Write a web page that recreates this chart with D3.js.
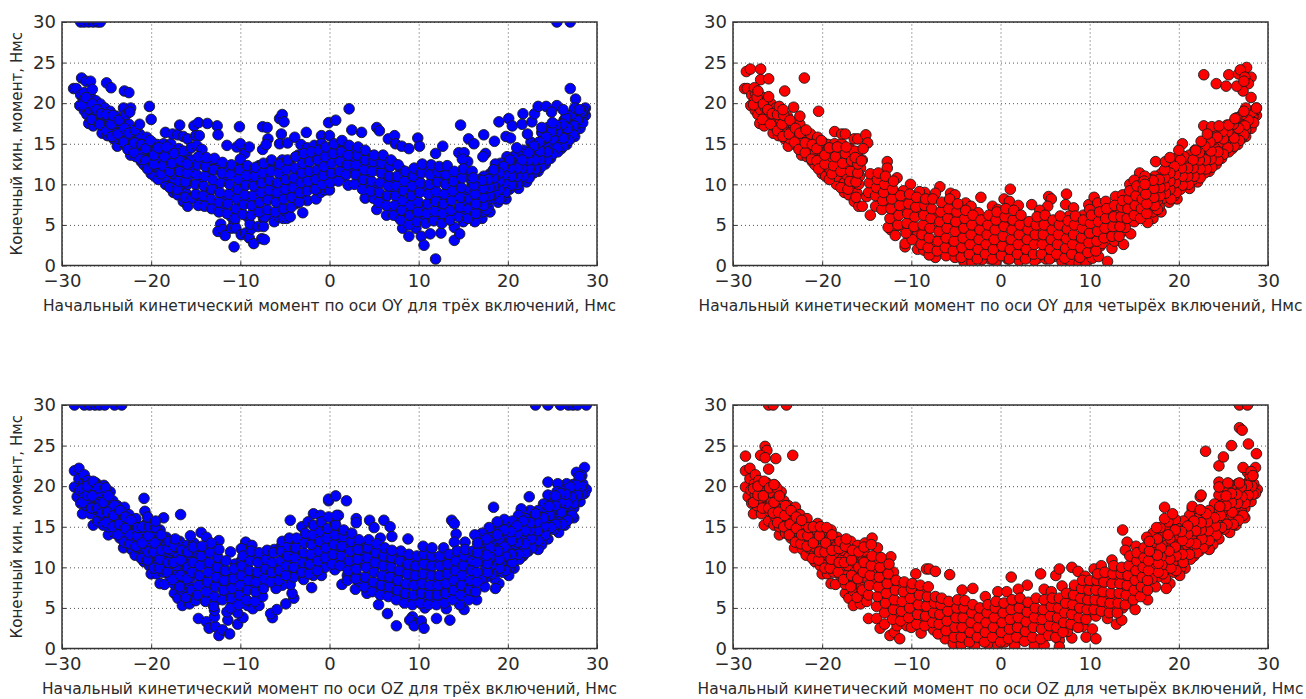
<!DOCTYPE html>
<html>
<head>
<meta charset="utf-8">
<script src="https://cdn.jsdelivr.net/npm/d3@7"></script>
<style>
  body { margin: 0; background: #fff; }
  text { font-family: "DejaVu Sans", sans-serif; fill: #2a2a2a; }
  .grid line { stroke: #555; stroke-dasharray: 1 3; }
  .grid path { display: none; }
  .ticks path { display: none; }
  .ticks line { stroke: #333; }
  .ticks text { font-size: 18px; }
  .frame { fill: none; stroke: #333; stroke-width: 1.5; }
  .axisText { text-anchor: middle; }
  .dot { stroke: #1c1c1c; stroke-width: 0.9; }
</style>
</head>
<body>
<div id="chart"></div>
<script>
// all values below are read off the picture as flat x,y lists
// dense middles of the clouds can't be resolved point by point, so those are estimates
var tickValuesX = [-30, -20, -10, 0, 10, 20, 30];
var tickValuesY = [0, 5, 10, 15, 20, 25, 30];

// the outer parts of the clouds are nearly the same for three and four burns
var oyWings = [
  -28.7,21.8,-28.4,21.8,-28,19.7,-27.9,21,-27.6,20.3,-27.5,19.1,-27.5,21.3,-27.2,18.6,-27.1,20,-27,17.5,-26.9,19.2,-26.8,20.8,
  -26.5,17.2,-26.5,18.2,-26.4,19.5,-26.2,20.3,-26,17.8,-25.9,18.8,-25.7,19.9,-25.5,16.3,-25.5,17.3,-25.3,18.4,-25.2,19.4,
  -24.9,16,-24.9,17,-24.7,18,-24.6,19,-24.2,15.6,-24.2,16.6,-24,17.6,-23.9,18.4,-23.8,14.7,-23.6,15.6,-23.4,16.5,-23.3,17.5,
  -22.9,14.8,-22.8,15.8,-22.7,16.8,-22.5,17.4,-22.3,13.6,-22.2,14.6,-22.1,15.5,-22,16.4,-21.7,13.4,-21.6,14.4,-21.4,15.4,-21.3,16.2,
  -21.1,12.8,-20.9,13.8,-20.8,12.4,-20.7,14.8,-20.5,15.8,-20.3,13.2,-20.2,14.2,-20,11.3,-20,12.2,-19.9,15.2,-19.6,11,-19.6,13,-19.5,14,-19.3,14.9,
  -19.1,11.8,-18.9,12.8,-18.8,13.9,-18.6,15,-18.4,10,-18.4,11,-18.2,12,-18.1,13,-18,14.2,-17.8,15,-17.5,9,-17.5,10.2,-17.3,11.2,-17.2,12.3,-17,13.4,-17,8.7,-16.9,14.4,
  -16.7,9.8,-16.6,10.8,-16.5,11.8,-16.4,7.9,-16.3,12.9,-16.1,8.9,-16,14,-15.9,7.3,-15.9,10,-15.8,11,-15.7,12,-15.5,13,
  28.7,19.4,28.7,18.5,28.5,19,28.3,18.3,28.1,16.9,28.1,17.8,27.9,18.6,27.7,17.4,27.5,15.9,27.5,16.7,27.5,18.3,27.2,17.8,27,15.6,27,16.6,26.9,17.4,26.6,14.9,26.6,15.9,26.4,16.9,26.3,17.9,
  26,14.4,26,15.3,25.9,16.3,25.7,17.2,25.6,14,25.4,15,25.3,15.9,25.2,16.9,24.8,13.2,24.8,14.2,24.7,15.2,24.6,16.2,24.5,17,
  24.2,12.5,24.2,13.5,24,14.5,23.9,15.5,23.8,16.4,23.4,11.6,23.4,12.6,23.3,13.6,23.2,14.7,22.9,11.4,22.8,12.4,22.7,13.3,22.6,14.3,22.6,15.2,
  22.1,10.3,22.1,11.3,22,12.3,21.9,13.3,21.8,14.2,21.6,10.6,21.4,11.6,21.3,12.6,21.2,9.5,21.2,13.6,20.9,10.4,20.8,11.4,20.7,12.5,20.6,13.4,
  20.2,9.4,20.2,10.5,20.1,11.5,20,12.5,19.9,13.4,19.8,8.2,19.5,8.6,19.5,9.6,19.4,10.7,19.3,11.7,19.2,12.6,18.9,7.8,18.9,8.8,18.8,9.9,18.7,10.9,18.6,11.9,18.6,12.5,
  18.3,8.3,18.2,9.3,18.1,10.3,18,6.6,18,11.3,17.8,7.2,17.6,8,17.5,9,17.4,10,17.3,11,17.1,5.8,17.1,6.6,17,7.6,16.9,8.6,16.8,9.6,16.7,10.6
];
var oyWingsFill = [
  -27.7,19.8,-27.3,20.7,-26.7,18,-26.6,19.9,-26.1,19.2,-25.8,17.4,-25.6,18.7,-25,16.6,-25,18.6,-24.5,17.4,-24.4,15.9,-24.3,18.5,-23.7,16.2,-23.6,17.9,-23.1,15.2,-23,16.9,-22.6,14.3,-22.5,16.3,-21.9,13.9,-21.9,15.1,-21.8,16.7,
  -21.2,13.1,-21.1,14.9,-20.6,12.9,-20.6,14.4,-20.4,11.9,-20.1,15.4,-19.7,12.5,-19.7,13.6,-19.2,10.6,-19.2,14.5,-18.9,11.3,-18.7,12.3,-18.5,13.4,-18.3,14.6,-17.9,9.6,-17.9,11.6,-17.7,12.6,-17.4,13.8,-17.1,9.4,-16.9,10.4,-16.8,11.6,-16.7,12.9,-16.4,14.1,-16.2,8.4,-16.2,10.3,-16,11.4,-16,12.5,
  28.4,17.6,28.2,18.9,27.8,17.9,27.4,17.2,27.3,16.1,27.1,18.6,26.8,15.4,26.7,16.9,26.5,18.2,26.2,14.7,26.2,15.7,26.1,17.4,25.5,14.5,25.5,16.5,25.4,17.3,25,13.7,25,15.6,24.9,16.5,24.4,13,24.4,14,24.3,15.8,23.7,12.1,23.6,13.1,23.6,14.1,23.5,15.2,23.1,11.9,23,13,22.9,14.7,
  22.4,10.8,22.4,11.9,22.3,13,22.3,13.9,21.7,11,21.6,12,21.6,13,21.1,10,21,11,21,12,20.4,9.9,20.4,11,20.3,12,20.2,13,19.7,9,19.6,10.2,19.6,11.2,19.5,12.2,19.1,8.2,19,9.4,19,10.4,19,11.4,18.5,8.9,18.4,9.8,18.4,10.8,18.4,11.8,17.9,8.6,17.9,9.6,17.8,10.6,17.6,6.9,17.3,7.4,17.2,8.4,17.2,9.5,17.1,10.5
];
var ozWings = [
  -28.6,21.9,-28.6,19.9,-28.3,18.7,-28.1,22.2,-28.1,20.9,-28,19.5,-27.9,17.9,-27.7,16.6,-27.6,20.3,-27.5,21.4,-27.5,18.9,-27.3,17.6,-27.1,20.7,-27,19.5,-26.9,18.3,
  -26.8,16.6,-26.6,20.1,-26.5,15.2,-26.4,17.4,-26.3,18.8,-26.2,20.4,-26,15.7,-25.9,16.9,-25.7,18,-25.6,19.2,-25.4,15.2,-25.3,16.3,-25.3,20.1,-25.1,17.4,-25,18.5,-24.8,14,
  -24.8,15,-24.7,16,-24.6,19.3,-24.5,17.2,-24.3,18.2,-24.1,14.2,-24,15.3,-23.9,16.5,-23.8,17.6,-23.5,13.6,-23.4,14.7,-23.3,15.7,-23.2,16.8,-23.1,12.4,-23,17.4,
  -22.8,13.4,-22.7,14.4,-22.6,15.5,-22.5,16.5,-22.2,12.2,-22.1,13.2,-22,14.2,-21.8,11.5,-21.8,15.2,-21.7,16,-21.5,12.4,-21.3,13.4,-21.2,14.4,-20.9,11.5,-20.8,10.7,-20.8,12.5,-20.7,13.5,-20.6,14.5,-20.5,15.4,
  -20.2,10.2,-20.1,11.4,-20,9.2,-20,12.4,-19.9,13.4,-19.8,14.4,-19.4,9.2,-19.4,10.4,-19.3,11.4,-19.2,12.6,-19.1,13.6,-19,8,-19,14.6,-18.7,9.4,-18.6,10.5,-18.5,7.9,-18.5,11.6,-18.4,12.6,-18.3,13.7,
  -17.9,8.9,-17.9,10,-17.8,11,-17.7,12.1,-17.6,13.1,-17.4,6.8,-17.4,7.9,-17.2,9,-17.1,10.2,-17,6.2,-17,11.3,-16.9,12.4,-16.8,13.2,-16.5,5.3,-16.5,7.1,-16.4,8.2,-16.3,9.4,-16.2,10.5,-16.1,11.6,-16,12.7,
  -15.7,5.5,-15.7,6.6,-15.6,7.6,-15.5,8.8,-15.5,9.9,-15.4,11,-15.3,12,-15.2,13,
  28.8,19.6,28.6,22.3,28.6,19.1,28.4,20.3,28.3,21.3,28.1,18.1,28,19.5,27.9,20.6,27.7,21.7,27.6,18.6,27.4,16.1,27.4,17.3,27.3,20.2,27.2,19.3,27,16.9,26.9,18.1,26.8,19.1,26.6,20.3,
  26.4,15.2,26.4,16.3,26.3,17.4,26.2,18.5,26.1,19.6,25.9,15,25.8,16.2,25.7,14.3,25.7,17.2,25.6,18.3,25.6,20.3,25.5,19.3,25.1,14.7,25,15.8,24.9,16.9,24.8,18,24.5,18.9,24.5,20.5,
  24.5,13.5,24.4,14.5,24.3,15.5,24.2,16.6,24,17.8,23.8,12.8,23.7,13.8,23.6,14.9,23.5,16,23.4,12.2,23.4,17,23,12.9,22.9,14,22.8,15,22.7,16,22.5,17,
  22.4,18.7,22.3,12,22.2,13,22.2,14,22.1,15,22,16,21.7,11.4,21.6,12.4,21.5,13.4,21.5,17.2,21.4,14.5,21.3,11,21.3,15.5,21.2,16.4,20.9,11.8,20.8,12.8,20.7,9.9,20.7,13.8,20.6,14.8,20.5,15.7,
  20.2,9.9,20.1,9,20.1,11,20,12,19.9,13,19.8,14,19.7,15,19.6,15.9,19.4,9.4,19.3,10.5,19.2,11.5,19.1,12.5,19,8,19,13.5,18.9,14.5,18.8,15.6,18.5,8.6,18.6,7.4,18.4,9.7,18.4,17.4,
  18.3,10.8,18.2,11.8,18.1,12.8,18,13.8,17.9,14.9,17.6,8.8,17.5,10,17.4,7.6,17.4,11,17.3,12,17.2,13.1,17.1,14.2,17,8.6
];
var ozWingsFill = [
  -27.7,19.7,-27.7,18,-27.2,18.9,-27.2,20,-26.7,17.3,-26.6,18.8,-26.5,20.6,-26,17.3,-25.9,19.8,-25.5,16.7,-25.4,18,-25.1,19.8,-25,15.5,-24.9,16.8,-24.8,18.8,-24.3,15,-24.2,16.4,-24.1,17.6,-23.7,14,-23.6,15.3,-23.5,17,-23,13.1,-22.9,14.8,-22.9,16.2,
  -22.4,12.9,-22.3,14,-22.3,15.8,-21.7,12.6,-21.6,13.9,-21.5,14.9,-21.1,11.1,-21,13,-21,15,-20.4,10.9,-20.3,11.9,-20.3,13.9,-20.2,15,-19.7,9.9,-19.7,11.9,-19.6,13,-19.5,14.9,-19.1,9.9,-19,11,-18.9,12.1,-18.9,14,-18.2,9.4,-18.1,10.6,-18.1,12.3,-18,13.2,
  -17.6,8.5,-17.5,10.6,-17.4,12.6,-17.3,13.5,-16.8,7.6,-16.7,9,-16.7,10.9,-16.6,12.1,-16.1,6.3,-16,8.6,-15.9,10,-15.9,11.9,-15.5,7.2,-15.4,9.4,-15.3,10.6,-15.3,12.5,
  28.3,19,28.2,20,28,21.2,27.8,18.9,27.7,20.1,27.4,17.9,27.2,16.4,27.1,18.7,27,19.9,26.7,15.8,26.6,17.9,26.5,19,26.1,15.3,26,16.8,25.9,18,25.9,19.1,25.4,15.3,25.3,17.6,25.3,18.8,24.8,14.9,24.7,16.4,24.6,17.5,24.2,14,24.1,15.1,24,16.1,
  23.4,13.3,23.3,14.5,23.2,15.6,23.1,16.6,22.7,12.4,22.6,13.5,22.5,14.6,22.5,15.5,22,11.8,21.9,12.9,21.9,14.5,21.7,15.7,21.2,11.6,21.1,13.1,21,14.1,21,15.1,20.5,10.6,20.4,11.6,20.4,13.3,20.3,14.4,
  19.7,9.6,19.7,11.4,19.6,12.5,19.6,14.6,19.1,9.9,19,11,18.9,12,18.8,14,18.2,9.2,18.1,10.3,18,11.3,18,12.4,17.6,13.5,17.7,9.4,17.7,10.5,17.6,11.5
];

var oyThree = [
  -27.9,30,-27.5,30,-27,30,-26.5,30,-26,30,-25.7,30,25.5,30,27,30,
  -27.8,23.1,-27.3,22.7,-26.8,22.7,-26.6,21.7,-25,22.5,-24.5,21.9,-23,21.5,-22.5,21.3,-23.1,19.4,-22.3,19.4,-22.8,18.6,-22.4,18.9,-20.2,19.6,-20,18,-21.3,17.4,-18.4,16.4,
  -17.6,16.2,-17,16.1,-16.8,17.3,-16.4,15.9,-15.9,15.6,-15.2,17.2,-14.7,17.6,-13.7,17.5,-12.6,17.2,-12.5,16.1,-15,16,-14.6,16,-15.5,14.5,-14.9,14.8,-14.3,14.3,-11.5,14.8,-10.4,14.6,-10,15,-10.1,17.1,-9.5,13.8,-9,14.6,
  -7.5,17.1,-7,17,-6.9,15.6,-7.5,14.3,-7.1,14.9,-5.6,18.1,-5.3,18.6,-5.1,17.7,-5.4,16.2,-5.6,15,-4.7,15.1,-3.9,15.8,-2.6,16.4,-3.2,14.9,-2.5,14.5,-0.9,16,0,16,-0.1,17.6,0.7,17.9,-1.7,14.8,-0.9,15,
  2.2,19.3,2.5,16.7,3.6,16.4,5.3,17,5.6,16.6,6.6,15.6,7.3,16,7.4,15,8.1,14.7,8.9,14.4,9.9,15.7,10.1,14.7,11.9,13.8,12.7,14.7,14.7,17.3,15.6,15.6,16.2,15,14.5,13.9,15.1,13.9,15.5,12.8,14.9,13.1,17.3,16.1,17.5,13.8,17.2,13.4,
  18.5,15.3,19,17.7,20.1,18.1,20.5,17.2,19.8,15.9,20.3,15.7,21,14.5,21.7,18.7,21.6,17.4,22.7,17.7,22.2,16.2,23,18.7,23.4,19.6,24.3,19.6,25.5,19.7,24.9,18.9,26.2,19.2,27,21.8,27.6,20.5,27.5,19.4,28,19.2,25,17.6,23.8,17,
  // lower edge of the middle
  -15.4,8.3,-14.7,7.4,-14,7.3,-13.2,7,-12.4,6.6,-12.2,5.1,-12.5,4.2,-12,4.4,-11.7,3.7,-11,4.6,-10.7,2.3,-10.5,4.6,-9.9,3.8,-9.4,4,-9,3.4,-8.8,4.5,-8.5,2.7,-8.9,5.1,-8,4.8,-7.6,3.3,-7.3,3.2,-7.4,4.8,-7.3,6,-6.2,5.4,-5.7,6,-5.2,5.8,-4.8,5.8,-4.4,6,-3,6.5,-2.5,8,-1.5,8.2,-1,9,-0.5,9.3,0,9.3,
  2.1,9.9,4,8.3,4.9,8.3,5.3,6.9,6.4,6.2,8.2,4.6,8.9,3.6,9.7,4.6,10.3,3.6,10.6,2.5,11.3,3.9,11.9,0.8,12.5,4,14,3.1,14,4.7,14.6,3.9,15,5.4,16.3,5.4,
  // middle of the cloud
  -15,8.8,-15,10,-14.9,11.2,-14.8,12.4,-14.7,13.4,-14.2,8.6,-14.1,9.8,-14,11,-13.9,12.2,-13.8,13.3,-13.3,8.2,-13.2,9.4,-13.1,10.6,-13,11.8,-12.9,13.2,-12.4,7.8,-12.3,9,-12.2,10.2,-12.1,11.4,-12,12.7,
  -11.5,6.4,-11.4,7.6,-11.3,8.8,-11.2,10,-11.1,11.2,-11,12.4,-10.6,5.8,-10.5,7,-10.4,8.2,-10.3,9.4,-10.2,10.6,-10.1,11.8,-10,13.1,-9.7,6.3,-9.6,7.5,-9.5,8.7,-9.4,9.9,-9.3,11.1,-9.2,12.3,
  -8.8,6.2,-8.7,7.4,-8.6,8.6,-8.5,9.8,-8.4,11,-8.3,12.1,-7.9,6.6,-7.8,7.8,-7.7,9,-7.6,10.2,-7.5,11.4,-7.4,12.6,-7,6.9,-6.9,8.1,-6.8,9.3,-6.7,10.5,-6.6,11.6,-6.5,13,
  -6.1,6.6,-6,7.8,-5.9,9,-5.8,10.2,-5.7,11.4,-5.6,12.5,-5.2,7,-5.1,8.2,-5,9.4,-4.9,10.6,-4.8,11.8,-4.7,13,-4.3,7.2,-4.2,8.4,-4.1,9.6,-4,10.8,-3.9,12,-3.8,13.4,
  -3.4,7.8,-3.3,9,-3.2,10.2,-3.1,11.4,-3,12.6,-2.9,13.8,-2.5,9.2,-2.4,10.4,-2.3,11.6,-2.2,12.8,-2.1,14,-1.6,9.4,-1.5,10.6,-1.4,11.8,-1.3,13,-1.2,14.2,-0.8,10,-0.7,11.1,-0.6,12.2,-0.5,13.4,-0.4,14.6,
  0.1,10.2,0.2,11.4,0.3,12.6,0.4,13.8,0.5,15,1,10.4,1.1,11.6,1.2,12.8,1.3,14,1.4,15.4,1.9,11.2,2,12.4,2.1,13.6,2.2,14.8,2.8,10,2.9,11.2,3,12.4,3.1,13.6,3.2,14.6,
  3.7,9.4,3.8,10.6,3.9,11.8,4,13,4,14.2,4.6,9.2,4.7,10.4,4.8,11.6,4.9,12.8,5,13.6,5.5,7.8,5.6,9,5.7,10.2,5.8,11.4,5.9,12.6,6,13.6,6.4,7.4,6.5,8.6,6.6,9.8,6.7,11,6.8,12.2,6.9,13,
  7.2,6.2,7.3,7.4,7.4,8.6,7.5,9.8,7.6,11,7.7,12.4,8,5.6,8.1,6.8,8.2,8,8.3,9.2,8.4,10.4,8.5,11.6,8.9,5,9,6.2,9.1,7.4,9.2,8.6,9.3,9.8,9.4,11,9.5,12,
  9.8,5.4,9.9,6.6,10,7.8,10.1,9,10.2,10.2,10.3,11.4,10.4,12.5,10.8,5.2,10.9,6.4,11,7.6,11.1,8.8,11.2,10,11.3,11.2,11.4,12.4,11.7,5.5,11.8,6.7,11.9,7.9,12,9.1,12.1,10.3,12.2,11.5,12.3,12.2,
  12.6,5.2,12.7,6.4,12.8,7.6,12.9,8.8,13,10,13.1,11.2,13.2,12.3,13.5,5.6,13.6,6.8,13.7,8,13.8,9.2,13.9,10.4,14,11.6,14.5,6,14.6,7.2,14.7,8.4,14.8,9.6,14.9,10.8,15,11.9,
  15.5,5.8,15.6,7,15.7,8.2,15.8,9.4,15.9,10.6,16,11.6,16.4,6.4,16.4,7.6,16.3,8.8,16.2,9.9,16.1,10.8
];
var oyThreeFill = [
  -14.5,8,-14.4,10.3,-14.3,12.9,-13.6,8.8,-13.5,11.5,-13.4,12.7,-12.8,7.4,-12.7,9.7,-12.6,12,-11.9,6.9,-11.8,8.2,-11.7,10.7,-11.6,12,-11,6,-10.9,8.6,-10.8,11.5,-10.7,5.3,-10,7.4,-10,9.1,-9.9,10.2,-9.8,12.4,-9.1,5.9,-9,8.1,-9,10.4,-8.9,11.6,
  -8.2,7,-8.1,9.4,-8,10.6,-7.9,12.3,-7.4,5.8,-7.3,8.4,-7.2,10.9,-7.1,12,-6.4,6.2,-6.4,8.7,-6.3,9.8,-6.2,11.9,-5.6,7.4,-5.5,8.6,-5.4,10.9,-5.3,13,-4.7,6.6,-4.6,8.9,-4.5,10.1,-4.4,12.4,-3.8,7.6,-3.7,9.9,-3.6,11.2,-3.5,13.6,
  -2.9,8.4,-2.8,10.9,-2.7,12,-2.6,13.2,-2,9.8,-1.9,11,-1.9,13.4,-1.1,9.6,-1.1,11.6,-1,12.6,-1,14,-0.2,10.8,-0.1,11.9,0,13,0,14.4,
  0.6,10.8,0.7,13.2,0.8,14.6,1.5,11,1.6,12.2,1.7,13.4,1.7,14.8,2.4,11.8,2.5,13,2.5,14.2,3.3,10.6,3.4,11.8,3.5,13,3.4,14,4.2,9.9,4.3,11,4.4,12.3,4.5,13.5,5,8.7,5.1,10,5.2,12.1,5.2,13.1,6,7.9,6.1,8.4,6.2,10.7,6.2,12,6.9,6.6,7,9.2,7.1,10.3,7.2,12.6,
  7.7,6,7.8,8.2,7.9,10.5,8,11.9,8.6,6.4,8.7,7.8,8.8,9.9,8.9,11.1,9.4,5.6,9.5,8,9.6,10.4,9.7,11.7,10.4,6,10.5,7.2,10.6,9.6,10.7,11.8,11.4,6.1,11.4,8.3,11.5,9.5,11.6,10.7,12.2,5.8,12.3,7,12.4,8.2,12.5,10.7,
  13.1,6,13.2,7.1,13.3,9.4,13.4,11.7,14.1,6.4,14.2,8.6,14.3,9.9,14.4,11.1,15,6.5,15.1,7.8,15.2,8.9,15.3,11.3,15.9,6.2,16,8,16,10.2
];

var oyFour = [
  -28.5,23.9,-28.05,24.2,-26.9,24.2,-26.9,22.9,-26,23,-24.2,21.5,-22,23.1,-20.4,19,-23.2,19.5,-22.5,18.4,-18.6,16.5,-17.8,16.2,-17.4,16.2,-16.4,15.6,-16,15.6,-15.1,16.1,-14.9,15.1,-15.4,14.4,-17.3,14.6,
  -27.6,21.9,-27.2,21.5,-26,20.8,-24.8,19.6,-24.4,19.2,-16.3,13.3,-15.6,12.9,-12.7,12.8,-12.7,12,-11.6,10.8,-14.6,6.2,-14,7.3,-13.3,6.9,-15.5,7.3,-10.1,10,-6.8,9.7,-7.3,8.9,-8.5,9,-9.1,9.1,-10.9,9.2,-5.6,8.9,-5.1,8.7,-3.9,7.7,-3.3,7.3,-2.2,8.4,-2.5,6.5,-4.6,7,-6,7.7,-0.9,7.3,-0.3,6.9,
  22.8,23.5,24.2,22.4,25.3,22.1,25.6,23.5,26.7,23.6,27.6,24.4,28.1,23.2,27.8,22.4,27.2,21.5,26.5,22.1,26.9,24.1,28.1,20.7,27.5,19.4,28.7,19.4,27.4,23.2,27.3,22.7,
  1.1,9.4,0.4,8.2,1,7.9,2,7.4,3.5,7.5,5.4,8.5,5.7,8.2,5.3,7.3,4.4,6.8,7.4,8.8,7.3,7.5,8.2,7.1,7.7,6.1,9.3,6.2,9.9,7.5,10.5,8.4,10.9,7.7,10,6.9,11.8,7.9,12.9,8.5,13.7,8.7,14.5,10,15.6,11.4,15,10.5,16.2,11,17.4,12.8,18.5,12.8,19,13.3,20.4,15,20,14.2,21.9,14.2,22.5,15.3,22.8,17.2,23.7,17.1,24.5,17.2,23.2,16.2,25.6,17.3,26.3,18.1,27.3,19,
  // lower edge of the middle
  -15,8.5,-12.3,4.4,-11.8,3.7,-12.6,4.7,-10.7,2.3,-10.7,2.7,-9.9,3.2,-9.3,2,-8.6,1.9,-7.5,2.3,-7.3,1,-8,1.3,-6.1,1.2,-5.1,1,-4.1,0.5,-3.2,0.4,-2.1,0.7,-0.5,0.5,0.8,0.8,2.1,0.6,3.8,0.6,5.1,0.8,6.9,0.5,7.9,0.5,8.8,0.3,9.6,0.3,10.3,0.9,11,1.1,12,0.5,12.5,2.1,11.4,2.7,12.8,3,13.8,2.6,14.6,3.9,14,4.7,15,5.4,16.5,5.3,
  // middle of the cloud
  -14.8,9,-14.7,10.2,-14.6,11.3,-14,8.6,-13.9,9.6,-13.8,10.6,-13.7,11.4,-13.2,8,-13.1,9,-13,10,-12.9,11,-12.4,5.8,-12.3,7,-12.2,8.2,-12.1,9.4,-12,10.4,-11.5,5,-11.4,6.2,-11.3,7.4,-11.2,8.6,
  -10.6,4,-10.5,5.2,-10.4,6.4,-10.3,7.6,-10.2,8.8,-9.7,4.8,-9.6,6,-9.5,7.2,-9.4,8.4,-8.9,2.6,-8.8,3.8,-8.7,5,-8.6,6.2,-8.5,7.4,-8.4,8.2,-8.1,2.2,-8,3.4,-7.9,4.6,-7.8,5.8,-7.7,7,-7.6,8.2,
  -7.1,1.8,-7,3,-6.9,4.2,-6.8,5.4,-6.7,6.6,-6.6,7.8,-6.2,2.2,-6.1,3.4,-6,4.6,-5.9,5.8,-5.8,7,-5.7,8.2,-5.3,1.8,-5.2,3,-5.1,4.2,-5,5.4,-4.9,6.6,-4.8,7.6,-4.4,1,-4.3,2.2,-4.2,3.4,-4.1,4.6,-4,5.8,-3.9,6.8,
  -3.5,1.4,-3.4,2.6,-3.3,3.8,-3.2,5,-3.1,6.2,-2.6,0.8,-2.5,2,-2.4,3.2,-2.3,4.4,-2.2,5.6,-1.7,1.4,-1.6,2.6,-1.5,3.8,-1.4,5,-1.3,6.2,-0.9,0.8,-0.8,2,-0.7,3.2,-0.6,4.4,-0.5,5.6,-0.4,6.6,
  0.1,1.2,0.2,2.4,0.3,3.6,0.4,4.8,0.5,6,0.6,7,1,0.8,1.1,2,1.2,3.2,1.3,4.4,1.4,5.6,1.5,6.8,1.9,1.4,2,2.6,2.1,3.8,2.2,5,2.3,6.2,2.8,0.8,2.9,2,3,3.2,3.1,4.4,3.2,5.4,3.7,1.4,3.8,2.6,3.9,3.8,4,5,4.1,6,
  4.6,1.4,4.7,2.6,4.8,3.8,4.9,5,5,6.2,5.5,0.8,5.6,2,5.7,3.2,5.8,4.4,5.9,5.6,6.3,1.4,6.4,2.6,6.5,3.8,6.6,5,6.7,6.1,7.2,0.9,7.3,2.1,7.4,3.3,7.5,4.5,7.6,5.5,8,1.4,8.1,2.6,8.2,3.8,8.3,5,8.4,6.1,
  8.9,1,9,2.2,9.1,3.4,9.2,4.6,9.3,5.6,9.8,1.6,9.9,2.8,10,4,10.1,5.2,10.2,6.2,10.7,1.8,10.8,3,10.9,4.2,11,5.4,11.1,6.6,11.6,3.4,11.7,4.6,11.8,5.8,11.9,7,12.5,3.6,12.6,4.8,12.7,6,12.8,7.4,
  13.3,3.6,13.4,4.8,13.5,6,13.6,7.2,13.7,8,14.2,5.8,14.3,7,14.4,8.2,14.5,9.2,15,6.2,15.1,7.4,15.2,8.6,15.3,9.8,15.7,5.8,15.8,7,15.9,8.2,16,9.4,16.1,10.4,16.4,6.4,16.4,7.6,16.3,8.8,16.2,10
];
var oyFourFill = [
  -14.4,9.4,-13.6,9.9,-13.5,8.4,-12.8,10.5,-12.7,7.8,-12.7,8.9,-11.9,6.4,-11.8,8.9,-11.7,4.9,-11,4.8,-11,6.9,-11,8,-10.1,5.8,-10,3.9,-10,7,-9.3,3.9,-9.2,6.5,-9.1,7.9,-8.4,3,-8.3,4.4,-8.3,6.9,-7.5,3,-7.4,5.3,-7.3,6.3,-6.5,2.6,-6.4,4,-6.4,7,-5.6,2.6,-5.5,5.1,-5.5,6.1,
  -4.7,1.7,-4.7,3.9,-4.6,5.2,-3.8,1.9,-3.7,3,-3.7,5.4,-3,0.9,-2.9,3.5,-2.9,4.6,-2,1.2,-2,2.3,-1.9,5,-1.2,0.8,-1.2,3,-1.1,4.1,-0.3,1.5,-0.2,2.8,-0.2,5,0.6,1.6,0.7,2.9,0.8,5.3,1.5,1.1,1.6,3.4,1.7,4.7,2.4,1.7,2.5,2.9,2.6,5.4,3.4,1.6,3.4,3.8,3.5,4.9,
  4.2,0.9,4.3,3.1,4.4,4.3,5.1,1.5,5.2,3,5.3,5.5,6,1.1,6,2.4,6.1,4.6,6.9,1.5,6.9,3.6,7,5.3,7.7,1.1,7.8,3,7.8,4.2,8.6,1.7,8.6,3,8.7,5.6,9.4,2,9.5,3.2,9.6,4.4,10.4,2.3,10.4,3.6,10.5,5.8,11.2,2.4,11.3,3.6,11.4,4.9,12.1,3.3,12.2,4.5,12.3,6.6,
  13,4,13,5.4,13.1,6.5,13.9,4.3,14,5.4,14,7.6,14.7,6.4,14.8,7.6,14.8,8.8,15.5,6.6,15.6,8,15.6,9.2
];

var ozThree = [
  -28.6,30,-27.5,30,-26.9,30,-26.3,30,-25.8,30,-25.2,30,-24.1,30,-23.3,30,23.1,30,24.5,30,25.9,30,26.8,30,27.3,30,27.8,30,28.8,30,
  -20.8,18.5,-20.7,16.9,-20.4,16.2,-18.6,16.1,-19.5,15.7,-16.7,16.5,-14.4,14.3,-15.6,13.9,-13.8,13.7,-12.4,13.3,-11.1,11.9,-9.4,13.1,-9.9,12.3,-8.7,12.7,-4.4,15.8,-3.1,15,-1.8,16.6,-0.1,18.2,-2.4,15.6,-1,16.4,
  -0.1,18.4,0.7,18.8,1.9,18.2,1,16.4,3,16,3,15.5,4.5,15.8,5,14.9,6.1,15.8,6.8,15,7,13.8,5.7,13.6,8.8,13.5,13.7,15.8,14,15.4,14.2,14.1,14,13.1,15.2,13.1,16.3,14,
  // lower edge of the middle
  -15,5.9,-14.7,3.7,-13.8,3.3,-13.5,2.5,-12.8,2.7,-12.4,1.6,-12,2.3,-11.2,1.8,-11.4,3.5,-12.9,3.9,-12.9,4.7,-11.5,4.5,-10.3,3,-9.7,3.8,-10.3,4.4,-9.2,5.3,-8.6,4.9,-7.9,5.3,-7.5,6.4,-6.4,3.8,-6.6,4.3,-5.9,4.8,-4.9,5.5,-4,6.2,-4.2,6.8,-4.4,7.9,-5.3,7.8,-6,7.4,-4,8.8,-2.9,8.5,-2,7.5,-1.8,9,-0.9,9,-0.5,10,
  0.6,9.7,1.4,7.9,2.9,7.3,3.3,8.3,4.2,6.8,5.5,5.4,6.5,4.3,7.5,2.8,9.3,3.9,9,3.5,9.5,2.8,10.3,3.4,10.6,2.5,10.7,5,12,3.7,13.5,3.5,13.1,4.9,15.1,4.8,14.6,5.4,16.5,6,
  // middle of the cloud
  -14.8,6.6,-14.7,7.8,-14.6,9,-14.5,10.2,-14.4,11.4,-14.3,12.6,-13.9,5.8,-13.8,7,-13.7,8.2,-13.6,9.4,-13.5,10.6,-13.4,11.8,-13.3,13,-13,5.2,-12.9,6.4,-12.8,7.6,-12.7,8.8,-12.6,10,-12.5,11.2,-12.4,12.2,
  -12,6,-11.9,7.2,-11.8,8.4,-11.7,9.6,-11.6,10.8,-11.1,5,-11,6.2,-10.9,7.4,-10.8,8.6,-10.7,9.8,-10.2,5.4,-10.1,6.6,-10,7.8,-9.9,9,-9.8,10.2,-9.7,11.4,-9.3,6,-9.2,7.2,-9.1,8.4,-9,9.6,-8.9,10.8,-8.8,12,
  -8.4,5.8,-8.3,7,-8.2,8.2,-8.1,9.4,-8,10.6,-7.9,11.8,-7.4,7.4,-7.3,8.6,-7.2,9.8,-7.1,11,-7,12.1,-6.6,8.2,-6.5,9.4,-6.4,10.6,-6.3,11.8,-5.7,8.4,-5.6,9.6,-5.5,10.8,-5.4,12,-5.3,13.2,
  -4.9,9,-4.8,10.2,-4.7,11.4,-4.6,12.6,-4.5,13.6,-4,10,-3.9,11.2,-3.8,12.4,-3.7,13.6,-3.1,9.4,-3,10.6,-2.9,11.8,-2.8,13,-2.7,14.2,-2.3,9.2,-2.2,10.4,-2.1,11.6,-2,12.8,-1.9,14,-1.8,15.2,
  -1.4,9.6,-1.3,10.8,-1.2,12,-1.1,13.2,-1,14.4,-0.9,15.6,-0.5,11.2,-0.4,12.4,-0.3,13.6,-0.2,14.8,-0.1,16.2,0.3,10.4,0.4,11.6,0.5,12.8,0.6,14,0.7,15.2,0.8,16.4,1.2,10.2,1.3,11.4,1.4,12.6,1.5,13.8,1.6,14.6,
  2,8.4,2.1,9.6,2.2,10.8,2.3,12,2.4,13.2,2.5,14.2,2.9,8.6,3,9.8,3.1,11,3.2,12.2,3.3,13.4,3.9,7.6,4,8.8,4.1,10,4.2,11.2,4.3,12.4,4.4,13.4,4.8,7,4.9,8.2,5,9.4,5.1,10.6,5.2,11.8,5.3,12.9,
  5.7,6.6,5.8,7.8,5.9,9,6,10.2,6.1,11.4,6.2,12.4,6.6,6.4,6.7,7.6,6.8,8.8,6.9,10,7,11.2,7,12.1,7.5,6,7.6,7.2,7.7,8.4,7.8,9.6,7.9,10.8,8,12,8.4,5.6,8.5,6.8,8.6,8,8.7,9.2,8.8,10.4,8.9,11.6,
  9.3,5.4,9.4,6.6,9.5,7.8,9.6,9,9.7,10.2,9.8,11.4,10.2,5.6,10.3,6.8,10.4,8,10.5,9.2,10.6,10.4,10.6,11.6,10.5,12.6,11.1,5.4,11.2,6.6,11.3,7.8,11.4,9,11.5,10.2,11.5,11.4,11.5,12.4,
  12,5.4,12.1,6.6,12.2,7.8,12.3,9,12.4,10.2,12.4,11.4,12.8,12.4,12.9,5.6,13,6.8,13.1,8,13.2,9.2,13.3,10.4,13.4,11.6,13.8,6,13.9,7.2,14,8.4,14.1,9.6,14.2,10.8,14.3,12,14.7,6.6,14.8,7.8,14.9,9,15,10.2,15.1,11.4,15.2,12.2,
  15.6,6,15.7,7.2,15.8,8.4,15.9,9.6,16,10.8,16.1,12,16.4,7,16.5,8.2,16.5,9.4,16.5,10.6,16.6,11.8,16.6,13
];
var ozThreeFill = [
  -14.3,8.4,-14.2,10.8,-14.1,12,-13.6,6.4,-13.5,7.6,-13.4,10,-13.3,12.4,-12.6,6,-12.5,8.2,-12.4,9.4,-12.3,10.6,-11.7,6.6,-11.6,7.8,-11.5,9,-10.9,5.6,-10.8,8,-10.7,9.2,-10.6,10.4,-10,7.2,-9.9,8.4,-9.9,10.8,-9.1,5.7,-9,7.8,-9,9,-8.9,11.4,
  -8.2,7.6,-8.1,8.8,-8,11.2,-7.3,8,-7.2,9.2,-7.2,10.4,-6.9,12,-6.4,8.8,-6.3,10,-6.2,12.2,-5.6,9,-5.5,10.2,-5.4,12.6,-4.7,9.6,-4.6,10.8,-4.5,12.1,-3.8,9.4,-3.7,11.8,-3.6,13,-3,10,-2.9,11.2,-2.8,13.6,-2,10,-2,11,-1.9,13.4,-1.2,9.9,-1.1,11.4,-1.1,12.7,-1,15,-0.4,10.6,-0.3,12,-0.2,14.2,0.3,11,0.4,13.2,0.6,15.6,
  1,10.8,1.2,12,1.3,13,1.5,14.3,2,9,2.2,10.2,2.2,12.6,2.4,13.7,3,9.2,3,10.4,3.1,11.6,3.2,12.8,3.9,8.2,4,10.6,4.1,11.8,4.2,13,4.8,7.6,4.9,9.9,5,11,5,12.2,5.8,7.2,5.9,8.4,5.9,10.8,6,12,6.6,7,6.7,8.2,6.8,9.4,6.9,10.6,7.5,6.6,7.6,7.8,7.7,9,7.8,11.4,
  8.4,6.2,8.5,7.4,8.6,9.8,8.7,11,9.3,6,9.4,8.4,9.5,9.6,9.6,10.8,10.2,6.2,10.3,7.4,10.4,8.6,10.5,11,11.1,6,11.2,7.2,11.3,9.6,11.4,11,12,6,12.1,7.2,12.2,8.4,12.3,10.8,12.9,6.2,13,7.4,13.1,9.8,13.2,11,13.8,6.6,13.9,7.8,14,10.2,14.1,11.4,14.7,7.2,14.8,8.4,14.9,9.6,15,10.8,15.6,6.6,15.7,7.8,15.8,10.2,15.9,11.4
];

var ozFour = [
  -26,30,-25.5,30,-24,30,26.8,30,27.7,30,
  -28.6,23.7,-26.4,24.9,-26.2,24.4,-26.9,23.8,-26.4,23.5,-25.2,23.4,-23.3,23.8,-26,22.1,-25.4,20.2,-14.4,13.6,-13.8,12.4,-14.5,12.8,-12.3,11.3,-12,9.4,-9.5,9.2,-8.3,9.8,-8,9.8,-7.3,9.5,-5.7,9.1,-4.3,7.2,-3.1,7.4,-1.7,6.4,-0.3,7,
  1.2,8.8,4.5,9.2,6.2,9,6.6,9.8,8,10,8.7,9.5,9.5,8.9,6.9,7.7,8.3,7.3,3,7.8,0.7,7,2,7.3,4.9,7.3,5.7,7,10.5,9.8,11.3,10.2,12.5,10.9,13.7,14.6,14.2,13.1,14,12.1,15.2,12.6,16.4,13.7,17.5,14.9,
  18.4,16,19.3,16.6,21.5,17.5,22.4,17.1,22.5,18.9,23,24.3,24.5,22.5,25,23.6,25.9,25,26.8,27.2,27.1,26.9,27.8,25.2,28.7,24,27.2,22.3,28.1,21.8,28.3,21.3,24.5,19.9,25.5,20.4,26.8,20.4,
  // lower edge of the middle
  -15,5.8,-14.8,3.7,-13.9,3.7,-13.5,2.5,-13,3,-12.4,1.6,-11.9,2,-11.6,2.8,-11.3,1.2,-10.5,2.8,-10,2.6,-8.9,1.9,-8,2.9,-7.5,2.3,-6.2,1.2,-5.3,0.6,-4.4,0.5,-2.9,0.3,-1.4,0.6,-0.3,0.3,1.6,0.3,3.8,0.3,4.9,0.4,6.6,1,6.6,0.2,8,1.3,7.5,2.1,9.6,1.4,10.7,1.2,10.3,2.4,9.2,2.7,10.7,4,12,3.7,13,3,13.6,3.5,15.1,4.8,16.5,6,
  // middle of the cloud
  -14.8,6.6,-14.7,7.8,-14.6,9,-14.5,10.2,-14.4,11.4,-13.9,5.2,-13.8,6.4,-13.7,7.6,-13.6,8.8,-13.5,10,-13.4,11.2,-13,4.4,-12.9,5.6,-12.8,6.8,-12.7,8,-12.6,9.2,-12.5,10.4,-12.1,3.6,-12,4.8,-11.9,6,-11.8,7.2,-11.7,8.4,
  -11.2,3.4,-11.1,4.6,-11,5.8,-10.9,7,-10.8,8.2,-10.3,3.8,-10.2,5,-10.1,6.2,-10,7.4,-9.9,8,-9.4,3,-9.3,4.2,-9.2,5.4,-9.1,6.6,-9,7.8,-8.5,2.8,-8.4,4,-8.3,5.2,-8.2,6.4,-8.1,7.6,-7.6,3.2,-7.5,4.4,-7.4,5.6,-7.3,6.4,
  -7,1.8,-6.9,3,-6.8,4.2,-6.7,5.4,-6.6,6.2,-6.1,2.2,-6,3.4,-5.9,4.6,-5.8,5.8,-5.2,1.4,-5.1,2.6,-5,3.8,-4.9,5,-4.8,6,-4.4,1.4,-4.3,2.6,-4.2,3.8,-4.1,5,-4,5.9,-3.5,0.8,-3.4,2,-3.3,3.2,-3.2,4.4,-3.1,5.4,
  -2.6,1.4,-2.5,2.6,-2.4,3.8,-2.3,5,-1.8,0.8,-1.7,2,-1.6,3.2,-1.5,4.4,-1.4,5.4,-0.9,1.4,-0.8,2.6,-0.7,3.8,-0.6,5,-0.5,5.8,0,0.8,0.1,2,0.2,3.2,0.3,4.4,0.4,5.6,0.9,1.2,1,2.4,1.1,3.6,1.2,4.8,1.3,6,
  1.8,1.4,1.9,2.6,2,3.8,2.1,5,2.2,6.2,2.7,0.9,2.8,2.1,2.9,3.3,3,4.5,3.1,5.7,3.6,1.4,3.7,2.6,3.8,3.8,3.9,5,4,6.2,4.5,1.2,4.6,2.4,4.7,3.6,4.8,4.8,4.9,6,5.4,1.6,5.5,2.8,5.6,4,5.7,5.2,5.8,6.2,
  6.2,1.4,6.3,2.6,6.4,3.8,6.5,5,6.6,6.2,7,2,7.1,3.2,7.2,4.4,7.3,5.6,7.4,6.8,7.9,3,8,4.2,8.1,5.4,8.2,6.6,8.3,7.8,8.7,2.6,8.8,3.8,8.9,5,9,6.2,9.1,7.4,9.2,8.4,9.6,3.6,9.7,4.8,9.8,6,9.9,7.2,10,8.4,
  10.5,4.8,10.6,6,10.7,7.2,10.8,8.4,10.9,9.2,11.3,4.6,11.4,5.8,11.5,7,11.6,8.2,11.7,9.4,12.2,4.4,12.3,5.6,12.4,6.8,12.5,8,12.6,9.2,12.7,10.2,13.1,4.4,13.2,5.6,13.3,6.8,13.4,8,13.5,9.2,13.6,10,
  14,5.4,14.1,6.6,14.2,7.8,14.3,9,14.4,10.2,14.5,11.4,14.9,6,15,7.2,15.1,8.4,15.2,9.6,15.3,10.8,15.3,11.8,15.7,6.4,15.8,7.6,15.9,8.8,16,10,16.1,11.2,16.1,12.4,16.5,7.2,16.5,8.4,16.6,9.6,16.6,10.8,16.7,12,16.7,13.2
];
var ozFourFill = [
  -14.3,8.3,-14.2,9.6,-14.1,10.8,-13.5,5.8,-13.4,8.2,-13.3,9.4,-12.6,5,-12.5,7.4,-12.4,8.6,-11.6,4.2,-11.5,5.4,-11.4,7.8,-10.8,4.2,-10.7,5.2,-10.6,6.6,-10,3.4,-9.9,5.6,-9.8,6.8,-9.1,3.6,-9,4.8,-9,7.1,-8.3,3.4,-8.2,4.6,-8.1,5.8,-7.4,2.8,-7.3,5,-7.2,6,
  -6.5,2.4,-6.5,3.6,-6.4,4.8,-5.6,1.6,-5.6,4,-5.5,5.2,-4.7,2,-4.6,3.2,-4.6,4.4,-3.8,1.1,-3.8,2.4,-3.7,4.6,-2.9,1.7,-2.9,2.9,-2.8,4.1,-2.1,1.1,-2.1,3.5,-2,4.7,-1.2,2,-1.2,3.2,-1.1,4.4,-0.3,1.4,-0.3,2.6,-0.2,5,0.5,0.8,0.6,3.8,0.7,5,1.4,1.8,1.5,3,1.6,5.4,
  2.3,1.2,2.4,2.4,2.5,4.8,3.2,1.6,3.3,3.9,3.4,5.1,4.1,1,4.2,3.2,4.3,4.4,5,1.8,5.1,3,5.2,5.4,5.9,2,6,3.2,6,4.4,6.7,3.2,6.8,4.6,6.8,5.8,7.5,2.6,7.6,4.9,7.7,6,8.4,3.4,8.5,4.6,8.5,5.9,9.3,3.2,9.4,5.6,9.5,6.8,10.1,4.2,10.2,5.4,10.3,7.8,
  11,5,11,6.4,11.1,8,11.9,5,12,6.2,12.1,8.8,12.8,5,12.9,6.2,13,8.6,13.7,5,13.8,7.4,13.9,8.6,14.6,5.6,14.7,7,14.8,9.4,14.8,10.6,15.5,6.8,15.5,8,15.6,9.2,15.6,11.6
];

var labelOyThree = "Начальный кинетический момент по оси OY для трёх включений, Нмс";
var labelOyFour = "Начальный кинетический момент по оси OY для четырёх включений, Нмс";
var labelOzThree = "Начальный кинетический момент по оси OZ для трёх включений, Нмс";
var labelOzFour = "Начальный кинетический момент по оси OZ для четырёх включений, Нмс";
var labelY = "Конечный кин. момент, Нмс";

var svgWidth = 1306;
var svgHeight = 699;
var width = 535;
var height = 243.5;

var svg = d3.select("#chart")
  .append("svg")
  .attr("width", svgWidth)
  .attr("height", svgHeight);

var xScale = d3.scaleLinear().domain([-30, 30]).range([0, width]);
var yScale = d3.scaleLinear().domain([0, 30]).range([height, 0]);

// flat x,y list -> [[x,y],...]
function toPoints(flat) {
  return d3.range(0, flat.length, 2).map(i => [flat[i], flat[i + 1]]);
}

function drawPanel(id, left, top, values, color, xLabel, showY) {
  var g = svg.append("g").attr("transform", `translate(${left}, ${top})`);

  g.append("clipPath").attr("id", id)
    .append("rect").attr("width", width).attr("height", height);

  // dotted grid
  g.append("g").attr("class", "grid")
    .attr("transform", `translate(0, ${height})`)
    .call(d3.axisBottom(xScale).tickValues(tickValuesX).tickSize(-height).tickFormat(""));
  g.append("g").attr("class", "grid")
    .call(d3.axisLeft(yScale).tickValues(tickValuesY).tickSize(-width).tickFormat(""));

  g.append("g").attr("clip-path", `url(#${id})`)
    .selectAll("circle")
    .data(toPoints(values))
    .enter()
    .append("circle")
    .attr("class", "dot")
    .attr("cx", d => xScale(d[0]))
    .attr("cy", d => yScale(d[1]))
    .attr("r", 5.3)
    .attr("fill", color);

  g.append("g").attr("class", "ticks")
    .attr("transform", `translate(0, ${height})`)
    .call(d3.axisBottom(xScale).tickValues(tickValuesX).tickSizeInner(-4).tickSizeOuter(0).tickPadding(9).tickFormat(d3.format("d")));
  g.append("g").attr("class", "ticks")
    .call(d3.axisLeft(yScale).tickValues(tickValuesY).tickSizeInner(-4).tickSizeOuter(0).tickPadding(6).tickFormat(d3.format("d")));

  g.append("rect").attr("class", "frame").attr("width", width).attr("height", height);

  g.append("text")
    .attr("class", "axisText")
    .style("font-size", "15.45px")
    .attr("x", width / 2)
    .attr("y", height + 45)
    .text(xLabel);

  if (showY) {
    g.append("text")
      .attr("class", "axisText")
      .style("font-size", "15.1px")
      .attr("transform", "rotate(-90)")
      .attr("x", -height / 2)
      .attr("y", -40)
      .text(labelY);
  }
}

drawPanel("clipA", 62, 22, oyWings.concat(oyWingsFill, oyThreeFill, oyThree), "#0000ff", labelOyThree, true);
drawPanel("clipB", 733, 22, oyWings.concat(oyWingsFill, oyFourFill, oyFour), "#ff0000", labelOyFour, false);
drawPanel("clipC", 62, 405, ozWings.concat(ozWingsFill, ozThreeFill, ozThree), "#0000ff", labelOzThree, true);
drawPanel("clipD", 733, 405, ozWings.concat(ozWingsFill, ozFourFill, ozFour), "#ff0000", labelOzFour, false);
</script>
</body>
</html>
